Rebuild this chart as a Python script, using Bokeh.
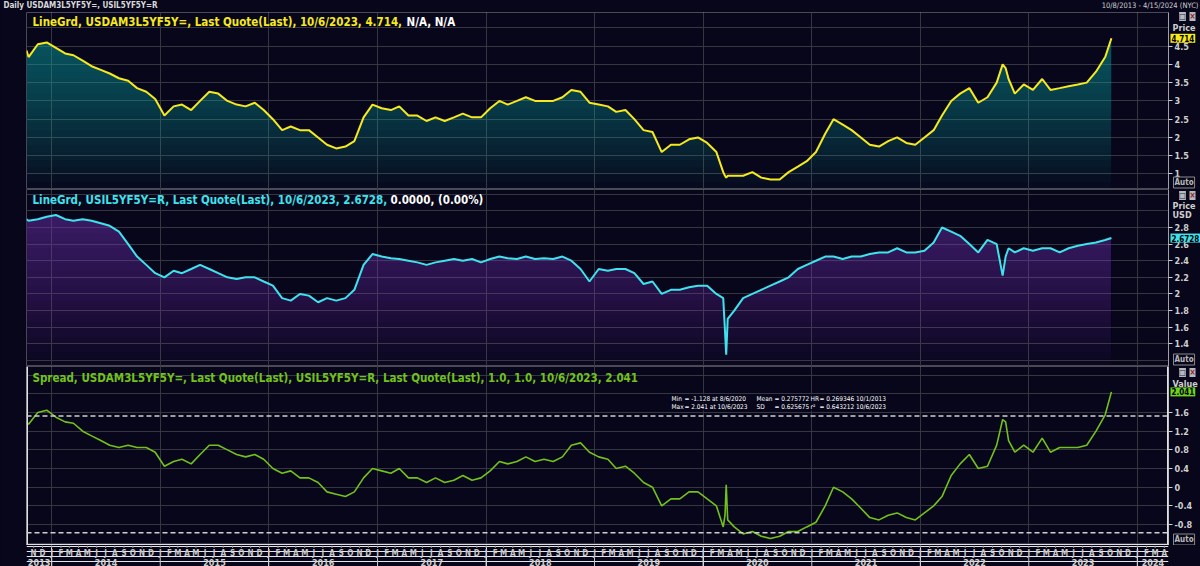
import numpy as np
import pandas as pd
from bokeh.plotting import figure
from bokeh.layouts import column
from bokeh.models import Range1d, FixedTicker, Grid, Label, Span, CustomJSTickFormatter
from bokeh.core.properties import value
from bokeh.embed import file_html
from bokeh.resources import INLINE

# ---------------- data ----------------
monthly_dates = (["2013-10-08"]
                 + [f"{y}-{m:02d}-15" for y in range(2013, 2024) for m in range(1, 13)
                    if (2013, 10) <= (y, m) <= (2023, 9)]
                 + ["2023-10-06"])

usdam_monthly = [4.38,
                 4.2, 4.55, 4.6,
                 4.45, 4.3, 4.25, 4.1, 3.95, 3.85, 3.75, 3.62, 3.55, 3.35, 3.25, 3.05,
                 2.6, 2.85, 2.9, 2.75, 3.0, 3.25, 3.2, 3.0, 2.9, 2.85, 2.95, 2.75,
                 2.5, 2.2, 2.3, 2.2, 2.2, 2.0, 1.8, 1.7, 1.75, 1.9, 2.55, 2.9,
                 2.8, 2.75, 2.85, 2.6, 2.6, 2.45, 2.55, 2.45, 2.55, 2.65, 2.55, 2.55,
                 2.8, 3.0, 2.9, 3.0, 3.1, 3.0, 3.0, 3.0, 3.1, 3.3, 3.25, 2.95,
                 2.9, 2.85, 2.7, 2.75, 2.5, 2.2, 2.15, 1.6, 1.8, 1.8, 1.95, 2.0,
                 1.85, 1.6, 0.95, 0.95, 0.95, 1.05, 0.9, 0.85, 0.85, 1.05, 1.2, 1.35,
                 1.6, 2.1, 2.5, 2.35, 2.2, 2.0, 1.8, 1.75, 1.9, 2.0, 1.85, 1.8,
                 2.0, 2.2, 2.6, 3.0, 3.2, 3.35, 2.95, 3.1, 3.5, 3.9, 3.2, 3.45,
                 3.3, 3.6, 3.3, 3.35, 3.4, 3.45, 3.5, 3.8, 4.2,
                 4.714]

usil_monthly = [2.9,
                2.88, 2.9, 2.93,
                2.95, 2.9, 2.88, 2.9, 2.88, 2.85, 2.82, 2.75, 2.6, 2.45, 2.35, 2.25,
                2.2, 2.28, 2.25, 2.3, 2.35, 2.3, 2.25, 2.2, 2.18, 2.2, 2.2, 2.15,
                2.1, 1.95, 1.92, 2.0, 1.98, 1.9, 1.95, 1.92, 1.95, 2.05, 2.35, 2.48,
                2.45, 2.43, 2.42, 2.4, 2.38, 2.35, 2.38, 2.4, 2.42, 2.4, 2.42, 2.38,
                2.42, 2.45, 2.43, 2.42, 2.45, 2.42, 2.43, 2.42, 2.45, 2.4, 2.3, 2.15,
                2.3, 2.28, 2.3, 2.3, 2.25, 2.12, 2.15, 2.0, 2.05, 2.05, 2.08, 2.1,
                2.1, 2.0, 1.55, 1.8, 1.95, 2.0, 2.05, 2.1, 2.15, 2.2, 2.3, 2.35,
                2.4, 2.45, 2.45, 2.42, 2.45, 2.45, 2.48, 2.5, 2.5, 2.55, 2.5, 2.5,
                2.52, 2.62, 2.8, 2.75, 2.7, 2.6, 2.5, 2.65, 2.6, 2.45, 2.5, 2.55,
                2.52, 2.55, 2.55, 2.5, 2.55, 2.58, 2.6, 2.62, 2.65,
                2.6728]

spread_monthly = [1.4,
                  1.35, 1.6, 1.65,
                  1.5, 1.4, 1.37, 1.2, 1.1, 1.0, 0.9, 0.85, 0.9, 0.85, 0.85, 0.75,
                  0.45, 0.55, 0.6, 0.5, 0.7, 0.9, 0.9, 0.8, 0.7, 0.65, 0.7, 0.6,
                  0.4, 0.3, 0.35, 0.2, 0.2, 0.1, -0.1, -0.15, -0.2, -0.1, 0.2, 0.4,
                  0.35, 0.3, 0.4, 0.2, 0.2, 0.1, 0.2, 0.1, 0.15, 0.25, 0.15, 0.2,
                  0.35, 0.55, 0.5, 0.55, 0.65, 0.55, 0.6, 0.55, 0.65, 0.9, 0.95, 0.75,
                  0.65, 0.6, 0.4, 0.45, 0.3, 0.1, 0.0, -0.4, -0.25, -0.25, -0.1, -0.1,
                  -0.25, -0.4, -0.6, -0.85, -1.0, -0.95, -1.05, -1.1, -1.05, -0.95, -0.95, -0.85,
                  -0.75, -0.4, 0.0, -0.1, -0.25, -0.45, -0.65, -0.7, -0.6, -0.55, -0.65, -0.7,
                  -0.55, -0.4, -0.2, 0.25, 0.5, 0.7, 0.4, 0.45, 0.9, 1.4, 0.75, 0.9,
                  0.75, 1.05, 0.75, 0.85, 0.85, 0.85, 0.9, 1.2, 1.55,
                  2.041]

# a few short-lived moves that the monthly readings miss
event_dates = ["2020-03-09", "2020-03-19", "2020-03-24", "2022-10-05", "2022-10-25"]
usdam_events = [1.05, 0.9, 0.95, 4.0, 3.6]
usil_events = [1.95, 1.27, 1.7, 2.22, 2.55]
spread_events = [-0.85, 0.05, -0.7, 1.45, 1.0]

spread_upper = 1.527   # mean + 2 SD band
spread_lower = -0.976  # mean - 2 SD band

p1_ticks = [1, 1.5, 2, 2.5, 3, 3.5, 4, 4.5]
p1_grid = [1, 1.5, 2, 2.5, 3, 3.5, 4, 4.5, 5]
p2_ticks = [1.4, 1.6, 1.8, 2.0, 2.2, 2.4, 2.6, 2.8]
p2_grid = [1.2, 1.4, 1.6, 1.8, 2.0, 2.2, 2.4, 2.6, 2.8, 3.0, 3.2]
p3_ticks = [-0.8, -0.4, 0, 0.4, 0.8, 1.2, 1.6]
p3_grid = [-1.2, -0.8, -0.4, 0, 0.4, 0.8, 1.2, 1.6, 2.0, 2.4]

header_left = "Daily USDAM3L5YF5Y=, USIL5YF5Y=R"
header_right = "10/8/2013 - 4/15/2024 (NYC)"
title1_a = "LineGrd, USDAM3L5YF5Y=, Last Quote(Last), 10/6/2023, 4.714,"
title1_b = "N/A, N/A"
title2_a = "LineGrd, USIL5YF5Y=R, Last Quote(Last), 10/6/2023, 2.6728,"
title2_b = "0.0000, (0.00%)"
title3 = "Spread, USDAM3L5YF5Y=, Last Quote(Last), USIL5YF5Y=R, Last Quote(Last),  1.0, 1.0, 10/6/2023, 2.041"
stats = [("Min", "= -1.128 at 8/6/2020", "Mean", "= 0.275772", "HR", "= 0.269346 10/1/2013"),
         ("Max", "= 2.041  at 10/6/2023", "SD", "= 0.625675", "r\u00b2", "= 0.643212 10/6/2023")]

# ---------------- assemble series ----------------
df = pd.DataFrame({
    "date": pd.to_datetime(monthly_dates + event_dates),
    "usdam": usdam_monthly + usdam_events,
    "usil": usil_monthly + usil_events,
    "spread": spread_monthly + spread_events,
}).sort_values("date").reset_index(drop=True)
xs = df["date"]
usdam = df["usdam"].to_numpy()
usil = df["usil"].to_numpy()
spread = df["spread"].to_numpy()

# ---------------- styling ----------------
BG = "#07061a"
GRID = "#363641"
EDGE = "#4a4a55"
AXC = "#cfcfcf"
YEL = "#f7ea1c"
CYA = "#3fe3ee"
GRN = "#72c21a"
FONT = "DejaVu Sans Condensed, DejaVu Sans, sans-serif"
TSIZE = "11.5px"

x_start, x_end = pd.Timestamp("2013-10-08"), pd.Timestamp("2024-04-15")
xr = Range1d(start=x_start, end=x_end)
year_ticks = [pd.Timestamp(f"{y}-01-01").value / 1e6 for y in range(2014, 2025)]
FL, FR = 26, 1168  # frame left / right in canvas pixels


def px_x(px):
    return x_start + (px - FL) / (FR - FL) * (x_end - x_start)


fmt = CustomJSTickFormatter(code="return String(Math.round(tick*10)/10)")


def make_fig(h, top, yr, ticks, grid):
    p = figure(width=1200, height=h, x_range=xr, y_range=yr,
               output_backend="svg", toolbar_location=None,
               x_axis_location=None, y_axis_location="right",
               min_border_left=FL, min_border_right=1200 - FR,
               min_border_top=top, min_border_bottom=0,
               background_fill_color=BG, border_fill_color=BG,
               outline_line_color=EDGE)
    ax = p.yaxis[0]
    ax.ticker = FixedTicker(ticks=ticks)
    ax.formatter = fmt
    ax.major_label_text_font_size = "9px"
    ax.major_label_text_font = FONT
    ax.major_label_text_font_style = "bold"
    ax.major_label_text_color = AXC
    ax.major_tick_out = 4
    ax.major_tick_in = 0
    ax.major_tick_line_color = AXC
    ax.minor_tick_line_color = None
    ax.axis_line_color = "#a0a0a8"
    ax.major_label_standoff = 2
    p.ygrid.ticker = FixedTicker(ticks=grid)
    p.ygrid.grid_line_color = GRID
    p.add_layout(Grid(dimension=0, ticker=FixedTicker(ticks=year_ticks), grid_line_color=GRID))
    return p


def gradient(p, ys, lo, hi, color, n, alpha):
    ys = np.asarray(ys, dtype=float)
    for L in np.linspace(lo, hi, n, endpoint=False):
        p.varea(x=xs, y1=np.full(len(ys), L), y2=np.maximum(ys, L),
                fill_color=color, fill_alpha=alpha)


def lab(p, x, y, text, color=AXC, size="9px", align="left", style="bold", **kw):
    # inside-frame label, screen units relative to the frame
    p.add_layout(Label(x=x, y=y, x_units="screen", y_units="screen", text=text,
                       text_color=color, text_font_size=size, text_font=FONT,
                       text_font_style=style, text_align=align,
                       text_baseline="middle", **kw))


class Geo:
    def __init__(self, lo, hi, top, bottom):
        self.lo, self.hi, self.top, self.bottom = lo, hi, top, bottom

    def v(self, py):
        return self.lo + (self.bottom - py) / (self.bottom - self.top) * (self.hi - self.lo)


def out(p, px, yv, text, color=AXC, size="9px", align="left", style="bold", **kw):
    # text drawn outside the frame (overlay level, not clipped)
    p.text(x=[px_x(px)], y=[yv], text=[text], level="overlay",
           text_font=value(FONT), text_font_size=size, text_font_style=style,
           text_color=color, text_align=align, text_baseline="middle", **kw)


def decorations(p, g, y_icons, y_auto):
    out(p, 1182, g.v(y_icons), "\u25a1", color="#203040", size="8px", align="center",
        background_fill_color="#b8b8c0", padding=0)
    out(p, 1192, g.v(y_icons), "\u00d7", color="#902020", size="8px", align="center",
        background_fill_color="#b8b8c0", padding=0)
    out(p, 1173, g.v(y_auto), "Auto", color="#b8b8b8", size="8px",
        border_line_color="#8a8a8a", padding=1)


def tag(p, yv, text, color):
    out(p, 1170, yv, text, color="black", size="8px",
        background_fill_color=color, padding=1)


# ---------------- panel 1 ----------------
g1 = Geo(0.575, 5.42, 12, 189)
p1 = make_fig(189, 12, Range1d(g1.lo, g1.hi), p1_ticks, p1_grid)
gradient(p1, usdam, g1.lo, g1.hi, "#18a0b0", 24, 0.035)
p1.line(xs, usdam, line_color=YEL, line_width=2)
out(p1, 3, g1.v(5), header_left, color="#d8d8d8", size="8px")
out(p1, 1198, g1.v(5), header_right, color="#d0d0d0", size="7.5px", align="right", style="normal")
lab(p1, 6, 168, title1_a, color=YEL, size=TSIZE)
lab(p1, 380, 168, title1_b, color="white", size=TSIZE)
out(p1, 1172, g1.v(27), "Price")
tag(p1, usdam[-1], f"{usdam[-1]:.3f}", YEL)
decorations(p1, g1, 16, 182)

# ---------------- panel 2 ----------------
g2 = Geo(1.127, 3.257, 189, 366)
p2 = make_fig(177, 0, Range1d(g2.lo, g2.hi), p2_ticks, p2_grid)
gradient(p2, usil, g2.lo, g2.hi, "#7a36c0", 24, 0.03)
p2.line(xs, usil, line_color=CYA, line_width=2)
lab(p2, 6, 167, title2_a, color=CYA, size=TSIZE)
lab(p2, 364, 167, title2_b, color="white", size=TSIZE)
out(p2, 1172, g2.v(205), "Price")
out(p2, 1172, g2.v(214), "USD")
tag(p2, usil[-1], f"{usil[-1]:.4f}", CYA)
decorations(p2, g2, 195, 359)

# ---------------- panel 3 ----------------
g3 = Geo(-1.248, 2.585, 366, 545)
p3 = make_fig(179, 0, Range1d(g3.lo, g3.hi), p3_ticks, p3_grid)
for loc, dim in ((x_start, "height"), (x_end, "height"), (g3.lo, "width")):
    p3.add_layout(Span(location=loc, dimension=dim, line_color="#e0e0e0", line_width=3))
for lvl in (spread_upper, spread_lower):
    p3.add_layout(Span(location=lvl, dimension="width", line_color="#d0d0d0",
                       line_dash="5 3", line_width=1.5))
p3.line(xs, spread, line_color=GRN, line_width=1.6)
lab(p3, 6, 168, title3, color=GRN, size=TSIZE)
for row, yy in zip(stats, (147, 139)):
    for txt, xx in zip(row, (645, 658, 730, 748, 784, 793)):
        lab(p3, xx, yy, txt, color="white", size="6.5px", style="normal",
            background_fill_color=BG)
out(p3, 1172, g3.v(383), "Value")
tag(p3, spread[-1], f"{spread[-1]:.3f}", "#6cd41c")
decorations(p3, g3, 372, 539)

# ---------------- time axis strip ----------------
p4 = figure(width=1200, height=21, x_range=xr, y_range=Range1d(0, 21),
            output_backend="svg", toolbar_location=None,
            x_axis_location=None, y_axis_location=None,
            min_border_left=FL, min_border_right=1200 - FR, min_border_top=0, min_border_bottom=0,
            background_fill_color=BG, border_fill_color=BG, outline_line_color=None)
month_starts = pd.date_range("2013-11-01", "2024-04-01", freq="MS")
letters = ["JFMAMJJASOND"[d.month - 1] for d in month_starts]
p4.segment(x0=month_starts, y0=21, x1=month_starts, y1=18.5, line_color="#9a9aa0", line_width=1)
p4.text(x=month_starts, y=[13.5] * len(month_starts), text=letters, text_font=value(FONT),
        text_font_size="8px", text_font_style="bold", text_color="#c8c8c8",
        text_align="center", text_baseline="middle")
years = list(range(2013, 2025))
ymid = []
for y in years:
    a = max(pd.Timestamp(f"{y}-01-01"), x_start)
    b = min(pd.Timestamp(f"{y + 1}-01-01"), x_end)
    ymid.append(a + (b - a) / 2)
p4.text(x=ymid, y=[4.5] * len(years), text=[str(y) for y in years], text_font=value(FONT),
        text_font_size="9px", text_font_style="bold", text_color="#d0d0d0",
        text_align="center", text_baseline="middle")
jans = [pd.Timestamp(f"{y}-01-01") for y in range(2014, 2025)]
p4.segment(x0=jans, y0=0, x1=jans, y1=9, line_color="#c8c8c8", line_width=1)

layout = column(p1, p2, p3, p4, spacing=0)
layout.styles = {"background-color": BG}
open("out.html", "w").write(file_html(layout, INLINE))
